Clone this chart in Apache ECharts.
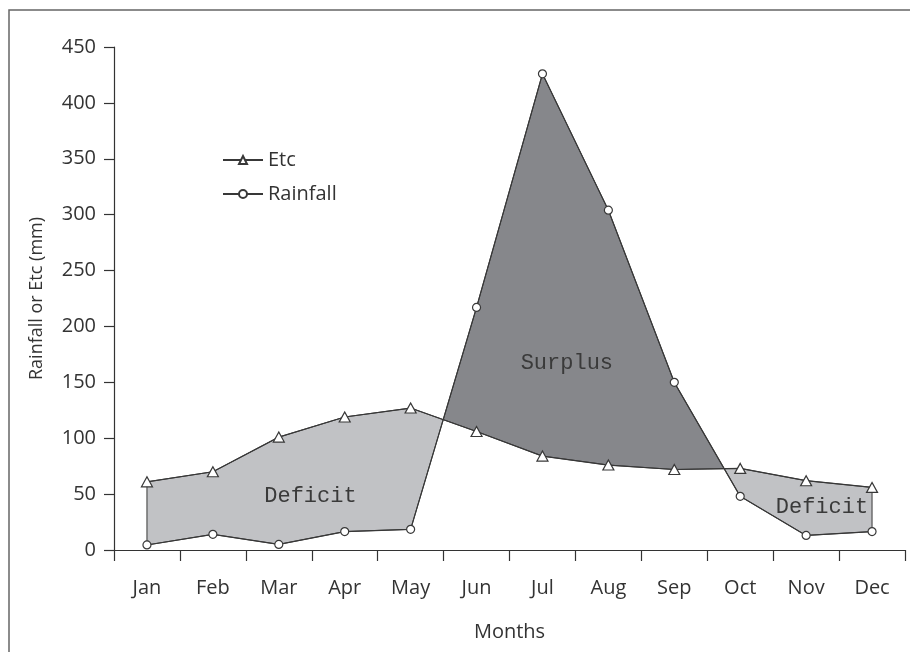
<!DOCTYPE html>
<html>
<head>
<meta charset="utf-8">
<script src="https://cdn.jsdelivr.net/npm/echarts@6/dist/echarts.min.js"></script>
<style>
html,body{margin:0;padding:0;background:#fff;}
#chart{width:910px;height:652px;}
</style>
</head>
<body>
<div id="chart"></div>
<script>
const months = ['Jan','Feb','Mar','Apr','May','Jun','Jul','Aug','Sep','Oct','Nov','Dec'];
const etc = [61, 70, 101, 119, 127, 106, 84, 76, 72, 73, 62, 56];
const rainfall = [4.5, 14, 5, 16.5, 18.5, 217, 426, 304, 150, 48, 13, 16.5];
const yTicks = [0, 50, 100, 150, 200, 250, 300, 350, 400, 450];
const areaLabels = ['Deficit', 'Surplus', 'Deficit'];
const areaLabelCat = [2.48, 6.37, 10.24];
const areaLabelVal = [48, 167, 38];

const LINE = '#383838';
const DEFICIT = '#c1c2c5';
const SURPLUS = '#86878b';

function buildRegions() {
  const n = etc.length;
  const d = etc.map((v, i) => v - rainfall[i]);
  const regions = [];
  let sign = Math.sign(d[0]);
  let ePts = [[0, etc[0]]];
  let rPts = [[0, rainfall[0]]];
  for (let i = 0; i < n - 1; i++) {
    const s1 = Math.sign(d[i + 1]);
    if (s1 !== 0 && s1 !== sign) {
      const t = d[i] / (d[i] - d[i + 1]);
      const p = [i + t, etc[i] + t * (etc[i + 1] - etc[i])];
      ePts.push(p); rPts.push(p);
      regions.push({ sign, pts: ePts.concat(rPts.slice().reverse()) });
      sign = s1;
      ePts = [p]; rPts = [p];
    }
    ePts.push([i + 1, etc[i + 1]]);
    rPts.push([i + 1, rainfall[i + 1]]);
  }
  regions.push({ sign, pts: ePts.concat(rPts.slice().reverse()) });
  return regions;
}
const regions = buildRegions();

const chart = echarts.init(document.getElementById('chart'));
const FONT = 'Open Sans';

function coordAt(api, x, v) {
  const i0 = Math.floor(x);
  const i1 = Math.min(Math.ceil(x), months.length - 1);
  const p0 = api.coord([i0, v]);
  if (i1 === i0) return p0;
  const p1 = api.coord([i1, v]);
  const f = (x - i0) / (i1 - i0);
  return [p0[0] + f * (p1[0] - p0[0]), p0[1] + f * (p1[1] - p0[1])];
}

chart.setOption({
  animation: false,
  textStyle: { fontFamily: FONT },
  graphic: [
    { type: 'polyline', shape: { points: [[9, 660], [9, 10], [915, 10]] },
      style: { stroke: '#666', lineWidth: 1.5, fill: null }, silent: true }
  ],
  legend: {
    data: ['Etc', 'Rainfall'],
    orient: 'vertical',
    left: 217,
    top: 145,
    itemWidth: 40,
    itemHeight: 10,
    itemGap: 14,
    textStyle: { fontFamily: FONT, fontSize: 20, color: '#333' },
    selectedMode: false
  },
  grid: { left: 114, right: 5, top: 47, bottom: 102, containLabel: false },
  xAxis: {
    type: 'category',
    data: months,
    boundaryGap: true,
    name: 'Months',
    nameLocation: 'middle',
    nameGap: 72,
    nameTextStyle: { fontFamily: FONT, fontSize: 20, color: '#333' },
    axisLine: { lineStyle: { color: '#333', width: 1.2 } },
    axisTick: { show: true, alignWithLabel: false, length: 11, lineStyle: { color: '#333', width: 1.2 } },
    axisLabel: { fontFamily: FONT, fontSize: 20, color: '#333', margin: 28 },
    splitLine: { show: false }
  },
  yAxis: {
    type: 'value',
    min: 0, max: 450, interval: 50,
    name: 'Rainfall or Etc (mm)',
    nameLocation: 'middle',
    nameGap: 68,
    nameTextStyle: { fontFamily: FONT, fontSize: 18, color: '#333' },
    axisLine: { show: true, lineStyle: { color: '#333', width: 1.2 } },
    axisTick: { show: true, length: 10, lineStyle: { color: '#333', width: 1.2 } },
    axisLabel: {
      fontFamily: FONT, fontSize: 20, color: '#333', margin: 18,
      formatter: v => (yTicks.indexOf(v) >= 0 ? String(v) : '')
    },
    splitLine: { show: false }
  },
  series: [
    {
      type: 'custom',
      name: 'areas',
      silent: true,
      z: 1,
      data: [[0, 0]],
      encode: { x: 0, y: 1 },
      renderItem: function (params, api) {
        const children = regions.map(r => ({
          type: 'polygon',
          shape: { points: r.pts.map(p => coordAt(api, p[0], p[1])) },
          style: { fill: r.sign > 0 ? DEFICIT : SURPLUS, stroke: LINE, lineWidth: 1 }
        }));
        areaLabels.forEach((t, i) => {
          const c = coordAt(api, areaLabelCat[i], areaLabelVal[i]);
          children.push({
            type: 'text',
            style: {
              text: t, x: c[0], y: c[1], align: 'center', verticalAlign: 'middle',
              fontFamily: 'Liberation Mono', fontSize: 22, fill: '#3a3a3a'
            }
          });
        });
        return { type: 'group', children };
      }
    },
    {
      name: 'Etc',
      type: 'line',
      data: etc,
      z: 3,
      symbol: 'triangle',
      symbolSize: [11, 10],
      showAllSymbol: true,
      lineStyle: { color: LINE, width: 1.2 },
      itemStyle: { color: '#fff', borderColor: LINE, borderWidth: 1.2 }
    },
    {
      name: 'Rainfall',
      type: 'line',
      data: rainfall,
      z: 3,
      symbol: 'circle',
      symbolSize: 8,
      showAllSymbol: true,
      lineStyle: { color: LINE, width: 1.2 },
      itemStyle: { color: '#fff', borderColor: LINE, borderWidth: 1.2 }
    }
  ]
});
</script>
</body>
</html>
